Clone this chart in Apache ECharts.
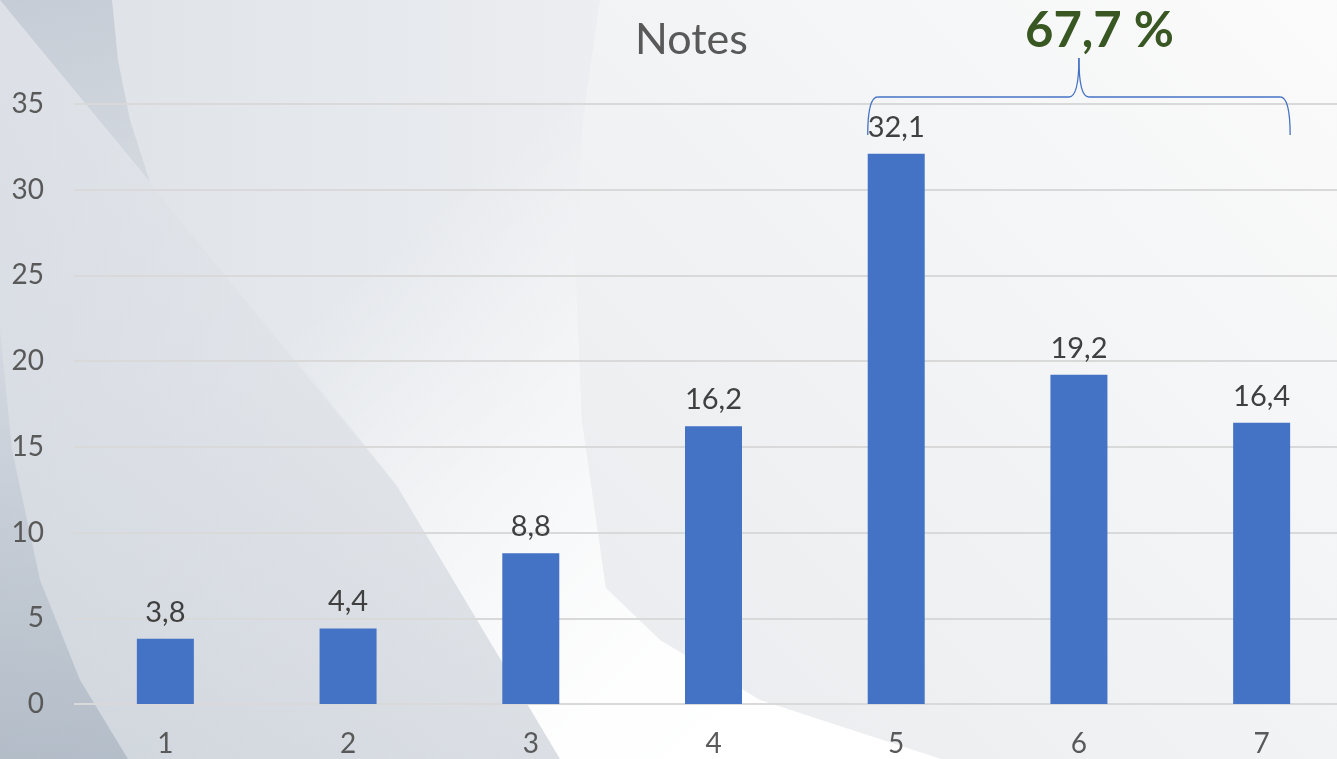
<!DOCTYPE html>
<html>
<head>
<meta charset="utf-8">
<title>Notes</title>
<script src="https://cdn.jsdelivr.net/npm/echarts@6/dist/echarts.min.js"></script>
<style>
  html, body { margin: 0; padding: 0; }
  #chart { width: 1337px; height: 759px; }
</style>
</head>
<body>
<div id="chart"></div>
<script>
const categories = ['1', '2', '3', '4', '5', '6', '7']
const notes = [3.8, 4.4, 8.8, 16.2, 32.1, 19.2, 16.4]
const shareLabel = '67,7 %' // part des notes 5 à 7
const braceFrom = 4
const braceTo = 6

const font = 'Lato, "Noto Sans", sans-serif'
const comma = v => String(v).replace('.', ',')

// fond façon diapositive : dégradés gris et reflets
const background = [
  {
    type: 'rect', z: -10, silent: true,
    shape: { x: 0, y: 0, width: 1337, height: 759 },
    style: {
      fill: {
        type: 'linear', x: 0, y: 0, x2: 1, y2: 0,
        colorStops: [
          { offset: 0, color: '#dde1e7' },
          { offset: 0.25, color: '#e5e8ec' },
          { offset: 0.45, color: '#eceef1' },
          { offset: 1, color: '#f7f7f8' }
        ]
      }
    }
  },
  {
    type: 'polygon', z: -9, silent: true,
    shape: { points: [[140, 160], [397, 486], [560, 759], [941, 759], [606, 588], [582, 420], [575, 250], [600, 0], [380, 0]] },
    style: {
      fill: {
        type: 'linear', x: 0, y: 0, x2: 0.8, y2: 1,
        colorStops: [
          { offset: 0, color: 'rgba(255,255,255,0)' },
          { offset: 0.35, color: 'rgba(255,255,255,0)' },
          { offset: 0.65, color: 'rgba(255,255,255,0.6)' },
          { offset: 0.85, color: 'rgba(255,255,255,0.95)' },
          { offset: 1, color: 'rgba(255,255,255,1)' }
        ]
      }
    }
  },
  {
    type: 'polygon', z: -8, silent: true,
    shape: { points: [[0, 0], [397, 486], [560, 759], [0, 759]] },
    style: {
      fill: {
        type: 'linear', x: 0, y: 0, x2: 0, y2: 1,
        colorStops: [
          { offset: 0, color: 'rgba(170,180,195,0)' },
          { offset: 0.5, color: 'rgba(170,180,195,0.08)' },
          { offset: 1, color: 'rgba(160,172,186,0.22)' }
        ]
      }
    }
  },
  {
    type: 'polygon', z: -7, silent: true,
    shape: { points: [[0, 0], [112, 0], [118, 60], [130, 120], [150, 182]] },
    style: {
      fill: {
        type: 'linear', x: 0, y: 0, x2: 0, y2: 1,
        colorStops: [
          { offset: 0, color: 'rgba(175,184,196,0.5)' },
          { offset: 1, color: 'rgba(175,184,196,0.25)' }
        ]
      }
    }
  },
  {
    type: 'polygon', z: -7, silent: true,
    shape: { points: [[0, 330], [12, 450], [40, 580], [80, 680], [128, 759], [0, 759]] },
    style: {
      fill: {
        type: 'linear', x: 0, y: 0, x2: 0, y2: 1,
        colorStops: [
          { offset: 0, color: 'rgba(160,172,186,0.1)' },
          { offset: 1, color: 'rgba(150,163,178,0.5)' }
        ]
      }
    }
  },
  {
    type: 'polygon', z: -6, silent: true,
    shape: { points: [[600, 0], [583, 120], [575, 250], [582, 420], [606, 588], [660, 640], [760, 700], [941, 759], [1337, 759], [1337, 0]] },
    style: {
      fill: {
        type: 'linear', x: 0, y: 1, x2: 1, y2: 0,
        colorStops: [
          { offset: 0, color: '#e9ebee' },
          { offset: 0.5, color: '#f2f3f5' },
          { offset: 1, color: '#fbfbfb' }
        ]
      }
    }
  }
]

const chart = echarts.init(document.getElementById('chart'))

const option = {
  animation: false,
  backgroundColor: 'transparent',
  textStyle: { fontFamily: font },
  title: [
    {
      text: 'Notes',
      left: 630,
      top: 14,
      textStyle: { fontFamily: font, fontSize: 43, fontWeight: 'normal', color: '#595959' }
    },
    {
      text: shareLabel,
      left: 1020,
      top: 2,
      textStyle: { fontFamily: font, fontSize: 49, fontWeight: 'bold', color: '#385723' }
    }
  ],
  // la dernière catégorie déborde un peu à droite comme sur l'original
  grid: { left: 74, width: 1279, top: 104, bottom: 55, outerBoundsMode: 'none' },
  xAxis: {
    type: 'category',
    data: categories,
    axisLine: { show: false },
    axisTick: { show: false },
    axisLabel: { color: '#595959', fontSize: 28, margin: 26, fontFamily: font }
  },
  yAxis: {
    type: 'value',
    min: 0,
    max: 35,
    interval: 5,
    axisLine: { show: false },
    axisTick: { show: false },
    axisLabel: { color: '#595959', fontSize: 28, margin: 30, fontFamily: font },
    splitLine: { lineStyle: { color: '#d9d9d9', width: 2 } }
  },
  series: [{
    type: 'bar',
    data: notes,
    barWidth: 57,
    itemStyle: { color: '#4472C4' },
    label: {
      show: true,
      position: 'top',
      distance: 12,
      color: '#404040',
      fontSize: 29,
      fontFamily: font,
      formatter: p => comma(p.value)
    }
  }],
  graphic: background
}

chart.setOption(option)

// accolade au-dessus des barres 5 à 7
const half = 57 / 2
const x1 = chart.convertToPixel({ xAxisIndex: 0 }, braceFrom) - half
const x2 = chart.convertToPixel({ xAxisIndex: 0 }, braceTo) + half
const xm = (x1 + x2) / 2
const yl = 97, yEnd = 135, yTip = 58
const braceStyle = { fill: 'none', stroke: '#4472C4', lineWidth: 1.3 }
const curve = (ax, ay, cx, cy, bx, by) => ({
  type: 'bezierCurve', z: 10, silent: true,
  shape: { x1: ax, y1: ay, cpx1: cx, cpy1: cy, x2: bx, y2: by },
  style: braceStyle
})
const straight = (ax, ay, bx, by) => ({
  type: 'line', z: 10, silent: true,
  shape: { x1: ax, y1: ay, x2: bx, y2: by },
  style: braceStyle
})
const brace = [
  curve(x1, yEnd, x1, yl, x1 + 10, yl),
  straight(x1 + 10, yl, xm - 10, yl),
  curve(xm - 10, yl, xm, yl, xm, yTip),
  curve(xm, yTip, xm, yl, xm + 10, yl),
  straight(xm + 10, yl, x2 - 10, yl),
  curve(x2 - 10, yl, x2, yl, x2, yEnd)
]

chart.setOption({ graphic: background.concat(brace) })
</script>
</body>
</html>
